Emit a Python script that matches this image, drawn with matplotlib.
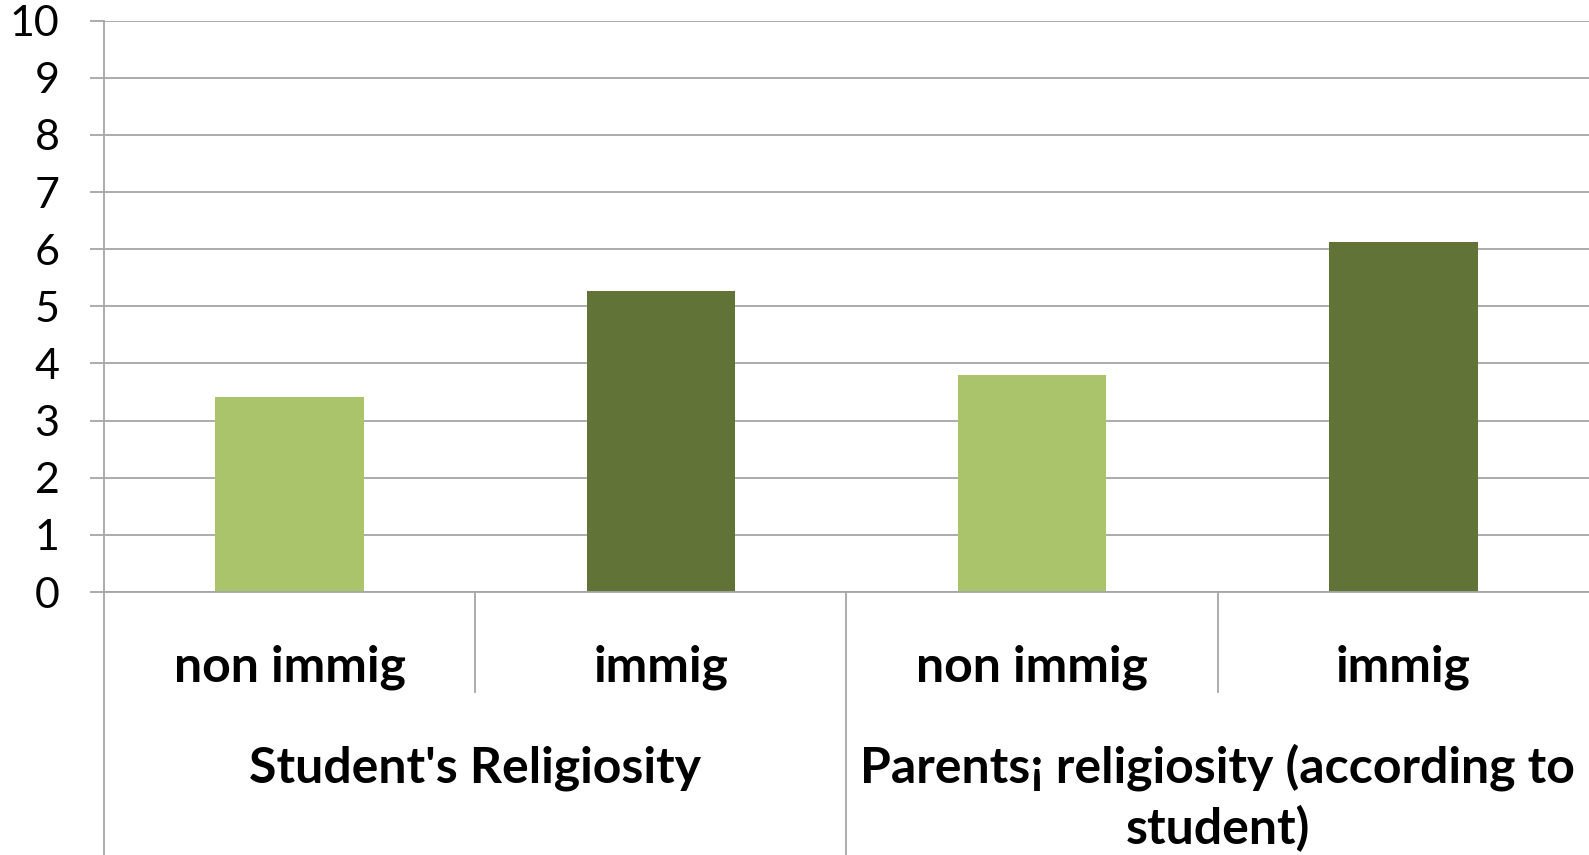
import matplotlib
matplotlib.use("Agg")
import matplotlib.pyplot as plt
import matplotlib.transforms as mtransforms

plt.rcParams['font.family'] = ['Lato', 'DejaVu Sans']

# data
groups = ["Student's Religiosity", "Parents\u00a1 religiosity (according to\nstudent)"]
categories = ["non immig", "immig", "non immig", "immig"]
values = [3.42, 5.26, 3.80, 6.13]
bar_colors = ["#AAC46C", "#627337", "#AAC46C", "#627337"]
yticks = list(range(0, 11))

fig = plt.figure(figsize=(15.89, 8.55), dpi=100)
ax = fig.add_axes([0.0654, 0.3076, 0.9346, 0.6682])

x = list(range(len(values)))
ax.bar(x, values, width=0.4, color=bar_colors, zorder=3)

ax.set_xlim(-0.5, 3.5)
ax.set_ylim(0, 10)
ax.set_yticks(yticks)
ax.set_yticklabels([str(t) for t in yticks], fontsize=31)
ax.tick_params(axis='y', length=10, width=1.3, color="#A6A6A6", pad=22)
ax.tick_params(axis='x', length=0, labelbottom=False)
ax.yaxis.grid(True, color="#A6A6A6", linewidth=1.3, zorder=0)
ax.set_axisbelow(True)
for s in ["top", "right", "bottom", "left"]:
    ax.spines[s].set_visible(False)

trans = mtransforms.blended_transform_factory(ax.transData, ax.transAxes)
grey = "#A6A6A6"
# baseline
ax.plot([-0.5, 3.5], [0, 0], transform=trans, color=grey, lw=1.3, clip_on=False, zorder=4)
# left axis line down to the bottom of the figure
ax.plot([-0.5, -0.5], [1, -0.46], transform=trans, color=grey, lw=1.3, clip_on=False)
# separators
ax.plot([0.5, 0.5], [0, -0.175], transform=trans, color=grey, lw=1.3, clip_on=False)
ax.plot([2.5, 2.5], [0, -0.175], transform=trans, color=grey, lw=1.3, clip_on=False)
ax.plot([1.5, 1.5], [0, -0.46], transform=trans, color=grey, lw=1.3, clip_on=False)

for xi, lab in zip(x, categories):
    ax.text(xi, -0.156, lab, transform=trans, ha="center", va="baseline",
            fontsize=36, fontweight="bold")

line_step = 62 / 571.3
for gi, g in enumerate(groups):
    for li, line in enumerate(g.split("\n")):
        ax.text(2 * gi + 0.5, -0.3326 - li * line_step, line, transform=trans,
                ha="center", va="baseline", fontsize=36, fontweight="bold")

fig.savefig("out.png", dpi=100)
